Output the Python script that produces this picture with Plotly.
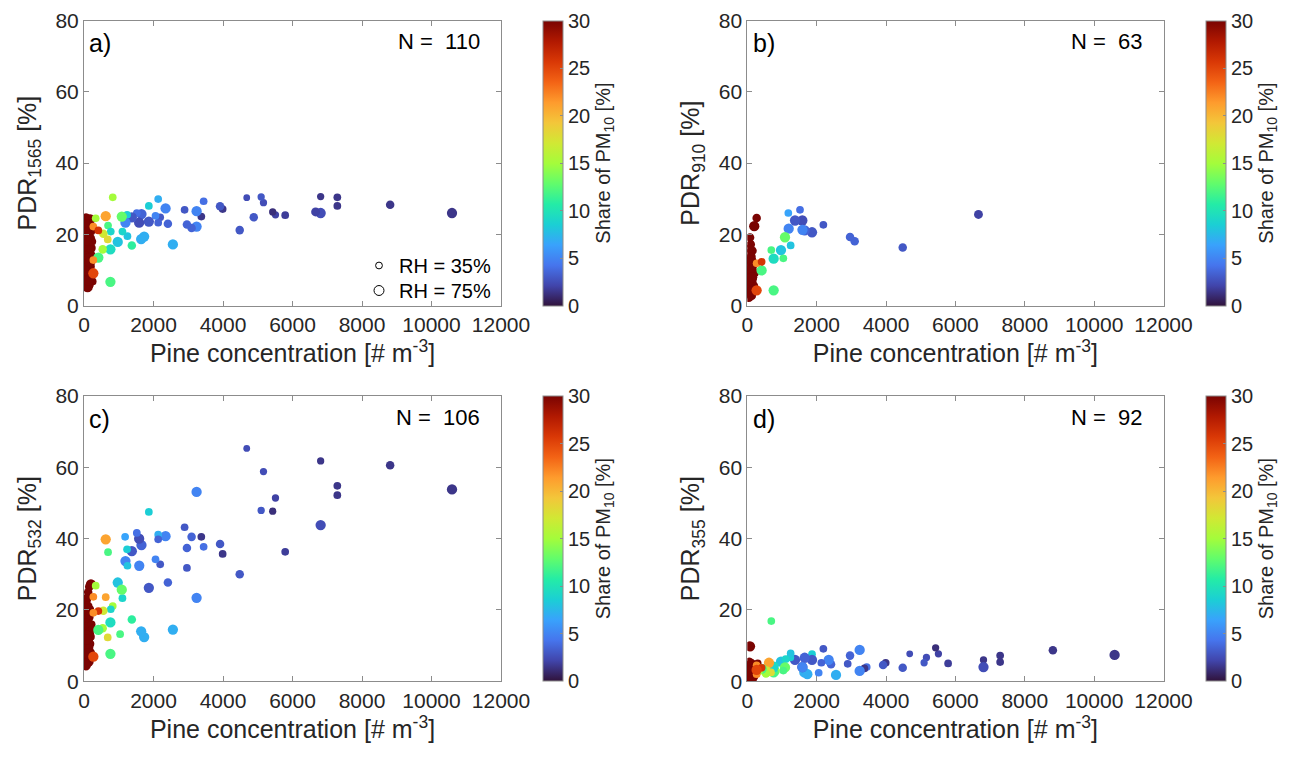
import numpy as np
import plotly.graph_objects as go

# ---------------- data ----------------
# events outside the low-concentration cluster (same events across panels)
ev_pine = [10590, 8810, 7290, 7290, 6810, 6810, 6665, 5790, 5510, 5430,
           5165, 5098, 4683, 4481, 4885, 3990, 3915, 3443, 3376, 3240,
           3240, 3096, 2962, 2895, 2962, 2558, 2414, 2347, 2135, 2193,
           2135, 2058, 1866, 1866, 1731, 1645, 1654, 1587, 1520, 1590,
           1376, 1240, 1193, 1183, 1250, 1376, 971, 1106, 1087, 827,
           760, 760, 692, 770, 625, 557, 683, 538, 413, 337,
           269, 413, 269, 269, 625, 1039]
ev_share = [1.5, 1.5, 1.5, 1.5, 1.5, 2.5, 2.0, 1.8, 2.0, 1.2,
            2.5, 3.0, 2.5, 3.0, 3.0, 1.5, 3.0, 4.0, 1.5, 5.0,
            5.0, 3.5, 3.5, 3.0, 3.0, 7.0, 3.5, 5.0, 7.0, 3.0,
            3.5, 5.0, 8.5, 3.0, 7.0, 7.0, 3.5, 2.5, 4.0, 5.0,
            3.0, 8.5, 5.0, 6.5, 8.0, 11.0, 8.0, 9.0, 13.0, 15.0,
            9.5, 12.0, 12.0, 9.0, 21.0, 17.0, 18.0, 15.0, 12.0, 15.0,
            22.0, 26.0, 22.0, 25.0, 21.0, 12.0]
ev_rh = [80, 55, 45, 45, 40, 80, 60, 45, 40, 40,
         40, 40, 35, 55, 55, 45, 55, 45, 45, 80,
         80, 55, 55, 45, 45, 80, 55, 80, 45, 45,
         45, 45, 45, 80, 80, 80, 80, 80, 45, 80,
         80, 45, 80, 45, 45, 55, 80, 45, 80, 45,
         80, 80, 45, 45, 80, 55, 45, 55, 80, 45,
         45, 45, 45, 80, 45, 45]
ev_pdr1565 = [26.0, 28.3, 30.4, 28.0, 30.6, 26.0, 26.3, 25.4, 25.5, 26.3,
              28.9, 30.5, 30.3, 21.2, 24.8, 27.1, 27.9, 29.3, 25.0, 26.5,
              22.2, 21.8, 22.8, 26.9, None, 17.2, 23.0, 27.3, 29.9, 24.8,
              23.3, 25.2, 28.0, 23.6, 19.4, 18.7, 25.7, 23.3, 26.0, None,
              24.8, 25.5, 23.3, None, 19.5, 16.9, 17.9, 20.8, 25.0, 30.4,
              15.8, 6.7, 22.5, 20.8, 25.1, 20.2, 18.6, 15.8, 13.5, 24.5,
              22.2, 21.1, 12.8, 9.1, None, None]
ev_pdr910 = [None, None, None, None, None, None, 25.6, None, None, None,
             None, None, None, 16.3, None, None, None, None, None, None,
             None, 18.1, 19.3, None, None, None, None, None, None, 22.7,
             None, None, None, 20.6, None, None, 21.1, 23.9, 26.9, 21.3,
             23.9, None, 21.6, 26.0, 16.9, None, 15.6, None, 19.2, None,
             13.2, 4.3, 15.6, None, None, None, None, None, 9.9, None,
             11.9, 12.3, None, 4.3, None, 13.3]
ev_pdr532 = [53.8, 60.6, 54.8, 52.2, 61.8, 43.8, None, 36.3, 51.4, 47.7,
             58.8, 47.9, 65.3, 30.0, None, 35.7, 38.5, 37.7, 40.5, 53.1,
             23.4, 40.5, 37.4, 43.2, 31.8, 14.5, 27.7, 40.7, 41.1, 32.8,
             39.8, 34.2, 47.5, 26.2, 12.4, 14.0, 38.2, 40.0, 41.6, 32.4,
             36.5, 37.0, 33.7, 40.5, 32.4, 17.3, 27.7, 23.3, 25.7, 21.1,
             16.5, 7.7, 36.2, 20.2, 39.8, 19.8, 12.3, 14.9, 14.4, 26.8,
             23.7, 19.7, 19.2, 6.9, 23.6, 13.2]
ev_pdr355 = [7.4, 8.7, 7.2, 5.4, 6.0, 4.0, None, 5.0, 7.7, 9.4,
             6.7, 5.2, 7.7, 3.8, None, 5.2, 4.6, 4.0, 3.6, 8.8,
             2.9, None, 7.2, 4.9, None, 1.8, 4.8, 6.0, None, 9.1,
             5.2, 2.4, 7.6, 6.0, 2.0, 2.5, 6.6, 4.0, None, 4.0,
             6.0, 6.7, None, None, 7.8, None, 5.5, 6.2, 3.9, 2.9,
             4.1, 2.5, 16.9, 3.6, 5.2, 3.0, 2.5, 2.2, 3.5, 2.8,
             4.5, 3.8, 2.0, 3.2, None, 3.0]

# low-concentration cluster (share of PM10 above 30 %) per panel
a_cl_pine = [60, 120, 180, 90, 40, 150, 210, 70, 110, 30, 170, 240, 80, 130, 50, 190, 100,
             60, 140, 220, 35, 90, 160, 70, 120, 45, 200, 85, 150, 55, 110, 180, 65, 130,
             40, 95, 250, 75, 160, 50, 105, 140, 60, 90, 200, 30, 120, 80, 170]
a_cl_pdr = [24.5, 23.8, 24.2, 22.9, 21.5, 22.0, 20.8, 20.5, 19.8, 19.2, 18.9, 18.0, 17.6,
            17.0, 16.5, 16.2, 15.5, 15.0, 14.6, 14.2, 13.8, 13.2, 12.8, 12.4, 12.0, 11.5,
            11.0, 10.6, 10.2, 9.8, 9.3, 8.9, 8.5, 8.0, 7.6, 7.2, 6.8, 6.3, 5.9, 5.5, 5.2,
            13.5, 18.4, 21.0, 15.8, 10.0, 7.0, 23.0, 12.2]
a_cl_rh = [80, 55, 80, 80, 55, 80, 45, 80, 80, 55, 80, 45, 80, 80, 55, 80, 80, 80, 55, 45,
           80, 80, 55, 80, 80, 80, 45, 80, 55, 80, 80, 45, 80, 80, 55, 80, 45, 80, 55, 80,
           80, 55, 80, 80, 45, 80, 80, 55, 80]

b_cl_pine = [270, 200, 80, 100, 150, 60, 120, 40, 90, 180, 30, 70, 140, 50, 110, 220, 60, 90,
             30, 160, 80, 120, 45, 200, 70, 100, 35, 150, 60, 85, 130, 40, 110, 75, 50, 170,
             95, 65, 140]
b_cl_pdr = [24.6, 22.3, 19.1, 17.2, 15.4, 14.5, 13.8, 13.0, 12.4, 12.0, 11.5, 11.0, 10.5,
            10.0, 9.6, 9.2, 8.7, 8.2, 7.8, 7.4, 7.0, 6.5, 6.0, 5.6, 5.2, 4.8, 4.4, 4.0, 3.6,
            3.2, 2.8, 2.5, 12.8, 9.9, 6.8, 11.2, 3.9, 16.0, 8.0]
b_cl_rh = [55, 80, 55, 55, 55, 80, 55, 80, 80, 45, 80, 80, 55, 80, 80, 45, 80, 80, 55, 45,
           80, 80, 55, 45, 80, 80, 55, 45, 80, 80, 55, 80, 80, 80, 55, 45, 80, 55, 80]

c_cl_pine = [200, 150, 120, 60, 40, 100, 180, 70, 30, 130, 90, 50, 160, 110, 40, 80, 140, 60,
             200, 30, 100, 70, 150, 50, 120, 90, 40, 170, 60, 110, 80, 30, 130, 60, 50, 220,
             90, 140, 70, 240, 110, 45]
c_cl_pdr = [27.2, 26.5, 25.0, 23.0, 22.0, 21.0, 20.2, 19.5, 18.8, 18.0, 17.2, 16.5, 15.8,
            15.2, 14.5, 14.0, 13.5, 13.0, 12.5, 12.0, 11.5, 11.0, 10.5, 10.0, 9.5, 9.0, 8.5,
            8.0, 7.5, 7.0, 6.5, 6.0, 5.5, 5.0, 4.5, 16.0, 12.8, 9.2, 11.8, 14.8, 7.8, 20.6]
c_cl_rh = [80, 55, 55, 80, 55, 80, 45, 80, 55, 80, 80, 55, 80, 80, 80, 55, 80, 80, 45, 80,
           80, 55, 80, 80, 80, 80, 55, 80, 80, 80, 55, 80, 80, 80, 80, 45, 80, 55, 80, 45,
           80, 55]

d_cl_pine = [78, 60, 120, 40, 180, 90, 30, 150, 70, 210, 110, 50, 260, 80, 140, 30, 100, 60,
             170, 40, 90, 120, 230, 70, 190, 50, 130, 80, 300, 160, 45, 110, 65, 140, 250, 95]
d_cl_pdr = [9.8, 5.2, 4.8, 4.5, 4.2, 4.0, 3.8, 3.6, 3.4, 3.2, 3.0, 2.8, 2.6, 2.4, 2.2, 2.0,
            1.8, 1.6, 1.4, 1.2, 1.0, 0.8, 4.4, 3.9, 3.1, 2.5, 1.7, 1.1, 5.0, 3.5, 2.9, 2.1,
            1.5, 0.9, 4.1, 2.7]
d_cl_rh = [80, 80, 80, 55, 80, 80, 55, 80, 80, 45, 80, 80, 55, 80, 80, 80, 80, 55, 80, 80,
           80, 80, 45, 80, 80, 80, 80, 80, 45, 80, 80, 80, 80, 80, 55, 80]

CLUSTER_SHARE = 35.0
N_LABELS = ["110", "63", "106", "92"]
PANEL_LETTERS = ["a)", "b)", "c)", "d)"]
PDR_SUBS = ["1565", "910", "532", "355"]
LEGEND_RH = [35, 75]
X_TICKS = [0, 2000, 4000, 6000, 8000, 10000, 12000]
Y_TICKS = [0, 20, 40, 60, 80]
CB_TICKS = [0, 5, 10, 15, 20, 25, 30]

# ---------------- layout geometry ----------------
# the page body has an 8 px margin, so the figure is 16 px smaller than the window
OFF = 8
W, H = 1293 - 2 * OFF, 757 - 2 * OFF
FONT = "Liberation Sans, Arial, sans-serif"
TXT = "#262626"
AX = "#8c8c8c"

def fx(px):
    return (px - OFF) / W

def fy(py):
    return 1 - (py - OFF) / H

panels = [
    dict(x0=84, x1=501, y0=20.5, y1=305.7, cb=543),
    dict(x0=747.3, x1=1163.5, y0=20.5, y1=305.7, cb=1206),
    dict(x0=84, x1=501, y0=396, y1=681.3, cb=543),
    dict(x0=747.3, x1=1163.5, y0=396, y1=681.3, cb=1206),
]

def msize(rh):
    return list(1.15 * np.sqrt(np.array(rh, dtype=float)))

ev_sets = [ev_pdr1565, ev_pdr910, ev_pdr532, ev_pdr355]
cl_sets = [(a_cl_pine, a_cl_pdr, a_cl_rh), (b_cl_pine, b_cl_pdr, b_cl_rh),
           (c_cl_pine, c_cl_pdr, c_cl_rh), (d_cl_pine, d_cl_pdr, d_cl_rh)]

fig = go.Figure()
layout = dict(
    width=W, height=H, margin=dict(l=0, r=0, t=0, b=0, autoexpand=False),
    paper_bgcolor="white", plot_bgcolor="white",
    font=dict(family=FONT, color=TXT, size=20),
    showlegend=True,
    annotations=[],
)

for i, p in enumerate(panels):
    k = "" if i == 0 else str(i + 1)
    xa, ya, ca = "x" + k, "y" + k, "coloraxis" + k
    cx, cy, cr = cl_sets[i]
    fig.add_trace(go.Scatter(
        x=cx, y=cy, mode="markers", xaxis=xa, yaxis=ya, showlegend=False,
        marker=dict(size=msize(cr), color=[CLUSTER_SHARE] * len(cx), coloraxis=ca,
                    line=dict(width=0), opacity=1),
        hoverinfo="skip"))
    ys = ev_sets[i]
    sel = [j for j, v in enumerate(ys) if v is not None]
    fig.add_trace(go.Scatter(
        x=[ev_pine[j] for j in sel], y=[ys[j] for j in sel], mode="markers",
        xaxis=xa, yaxis=ya, showlegend=False,
        marker=dict(size=msize([ev_rh[j] for j in sel]),
                    color=[ev_share[j] for j in sel], coloraxis=ca,
                    line=dict(width=0), opacity=1),
        hoverinfo="skip"))

    layout["xaxis" + k] = dict(
        domain=[fx(p["x0"]), fx(p["x1"])], anchor=ya, range=[0, 12000],
        tickvals=X_TICKS, ticktext=[str(v) for v in X_TICKS],
        ticks="inside", ticklen=5, tickcolor=AX, showline=True, linecolor=AX,
        linewidth=1, mirror="ticks", showgrid=False, zeroline=False,
        automargin=False,
        tickfont=dict(size=21, color=TXT),
        title=dict(text="Pine concentration [# m<sup>-3</sup>]",
                   font=dict(size=25, color=TXT), standoff=5))
    layout["yaxis" + k] = dict(
        domain=[fy(p["y1"]), fy(p["y0"])], anchor=xa, range=[0, 80],
        tickvals=Y_TICKS, ticks="inside", ticklen=5, tickcolor=AX, showline=True,
        linecolor=AX, linewidth=1, mirror="ticks", showgrid=False, zeroline=False,
        automargin=False,
        tickfont=dict(size=21, color=TXT),
        title=dict(text="PDR<sub>" + PDR_SUBS[i] + "</sub> [%]",
                   font=dict(size=25, color=TXT), standoff=11))
    layout[ca] = dict(
        colorscale="Turbo", cmin=0, cmax=30,
        colorbar=dict(
            x=fx(p["cb"]), xanchor="left", thickness=20, thicknessmode="pixels",
            len=(p["y1"] - p["y0"]) / H, lenmode="fraction",
            y=fy((p["y0"] + p["y1"]) / 2), yanchor="middle", ypad=0, xpad=0,
            outlinewidth=1, outlinecolor=AX, tickvals=CB_TICKS,
            ticks="inside", ticklen=3, tickcolor=AX,
            tickfont=dict(size=20, color=TXT),
            title=dict(text="Share of PM<sub>10</sub> [%]", side="right",
                       font=dict(size=20, color=TXT))))
    layout["annotations"].append(dict(
        text=PANEL_LETTERS[i], xref=xa + " domain", yref=ya + " domain",
        x=0.008, y=0.92, xanchor="left", yanchor="middle", showarrow=False,
        font=dict(size=25, color="black")))
    layout["annotations"].append(dict(
        text="N =\u00a0\u00a0" + N_LABELS[i], xref=xa + " domain", yref=ya + " domain",
        x=0.955, y=0.925, xanchor="right", yanchor="middle", showarrow=False,
        font=dict(size=22, color="black")))

# RH size legend (panel a): one legend box per entry, placed where the reference shows them
leg_names = ["legend", "legend2"]
leg_tops = [246, 271]
for rh, ln, top in zip(LEGEND_RH, leg_names, leg_tops):
    fig.add_trace(go.Scatter(
        x=[None], y=[None], mode="markers", name="RH = %d%%" % rh, legend=ln,
        marker=dict(size=1.15 * np.sqrt(rh), color="white",
                    line=dict(color="black", width=1)),
        showlegend=True))
    layout[ln] = dict(
        x=fx(359), y=fy(top), xanchor="left", yanchor="top",
        bgcolor="rgba(0,0,0,0)", font=dict(size=20, color="black"),
        itemsizing="trace", itemwidth=30)

fig.update_layout(**layout)
fig.write_html("out.html")
